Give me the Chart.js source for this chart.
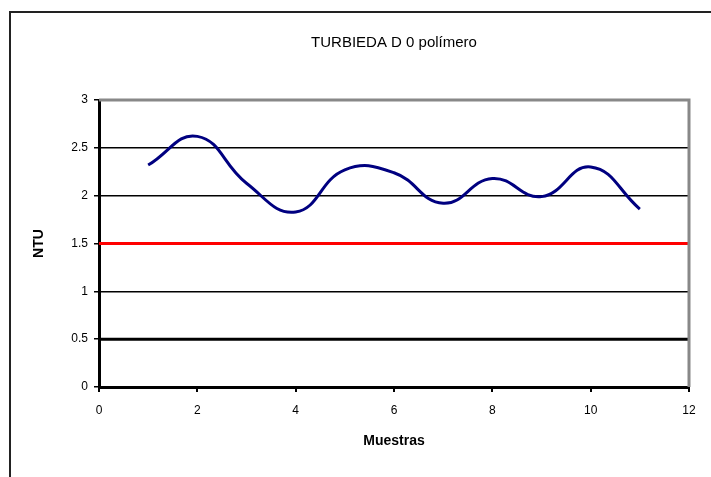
<!DOCTYPE html>
<html>
<head>
<meta charset="utf-8">
<script src="https://cdn.jsdelivr.net/npm/chart.js@4"></script>
<style>
  html, body { margin: 0; padding: 0; background: #fff; overflow: hidden; }
  #wrap { width: 711px; height: 477px; overflow: hidden; }
</style>
</head>
<body>
<div id="wrap"><canvas id="myChart" width="711" height="477"></canvas></div>
<script>
// Muestras y turbiedad
const muestras = [1, 2, 3, 4, 5, 6, 7, 8, 9, 10, 11];
const turbiedad = [2.32, 2.62, 2.13, 1.83, 2.27, 2.24, 1.92, 2.18, 1.99, 2.30, 1.86];
const limiteX = [0, 12];
const limiteRojo = [1.5, 1.5];
const limiteNegro = [0.5, 0.5];

const pts = (xs, ys) => xs.map((x, i) => ({ x: x, y: ys[i] }));

// marco exterior y bordes gris del area de trazado
const marco = {
  id: 'marco',
  beforeDraw(chart) {
    const c = chart.ctx;
    c.save();
    c.fillStyle = '#fff';
    c.fillRect(0, 0, chart.width, chart.height);
    c.strokeStyle = '#222';
    c.lineWidth = 2;
    c.beginPath();
    c.moveTo(10, chart.height);
    c.lineTo(10, 12);
    c.lineTo(chart.width, 12);
    c.stroke();
    c.restore();
  },
  afterDatasetsDraw(chart) {
    const a = chart.chartArea, c = chart.ctx;
    c.save();
    c.strokeStyle = '#888';
    c.lineWidth = 3;
    c.beginPath();
    c.moveTo(a.left, a.top);
    c.lineTo(a.right, a.top);
    c.lineTo(a.right, a.bottom);
    c.stroke();
    c.restore();
  }
};

const ctx = document.getElementById('myChart').getContext('2d');

const myChart = new Chart(ctx, {
  type: 'line',
  data: {
    datasets: [{
      label: 'Turbiedad',
      data: pts(muestras, turbiedad),
      borderColor: '#000080',
      borderWidth: 3,
      tension: 0.45,
      pointRadius: 0
    }, {
      label: 'Limite 1.5',
      data: pts(limiteX, limiteRojo),
      borderColor: '#ff0000',
      borderWidth: 3,
      pointRadius: 0
    }, {
      label: 'Limite 0.5',
      data: pts(limiteX, limiteNegro),
      borderColor: '#000',
      borderWidth: 3,
      pointRadius: 0
    }]
  },
  options: {
    responsive: false,
    animation: false,
    layout: { padding: { left: 0, right: 22, top: 0, bottom: 0 } },
    plugins: {
      legend: { display: false },
      tooltip: { enabled: false },
      title: {
        display: true,
        fullSize: false,
        text: 'TURBIEDA D 0 polímero',
        color: '#000',
        font: { family: 'Liberation Sans', size: 15, weight: 'normal' },
        padding: { top: 34, bottom: 48 }
      }
    },
    scales: {
      x: {
        type: 'linear',
        min: 0,
        max: 12,
        afterFit: s => { s.height = 90; },
        ticks: {
          stepSize: 2,
          color: '#000',
          padding: 11,
          font: { family: 'Liberation Sans', size: 12 }
        },
        grid: { drawOnChartArea: false, drawTicks: true, tickLength: 5, color: '#000', lineWidth: 2 },
        border: { color: '#000', width: 3 },
        title: {
          display: true,
          text: 'Muestras',
          color: '#000',
          font: { family: 'Liberation Sans', size: 14, weight: 'bold' },
          padding: { top: 8, bottom: 27 }
        }
      },
      y: {
        min: 0,
        max: 3,
        afterFit: s => { s.width = 99; },
        ticks: {
          stepSize: 0.5,
          color: '#000',
          padding: 6,
          font: { family: 'Liberation Sans', size: 12 },
          callback: v => String(v)
        },
        grid: {
          color: c => c.tick && c.tick.value === 3 ? '#888' : '#000',
          lineWidth: 1.5,
          tickLength: 5,
          tickColor: '#000'
        },
        border: { color: '#000', width: 3 },
        title: {
          display: true,
          text: 'NTU',
          color: '#000',
          font: { family: 'Liberation Sans', size: 14, weight: 'bold' },
          padding: { top: 31, bottom: 0 }
        }
      }
    }
  },
  plugins: [marco]
});
</script>
</body>
</html>
